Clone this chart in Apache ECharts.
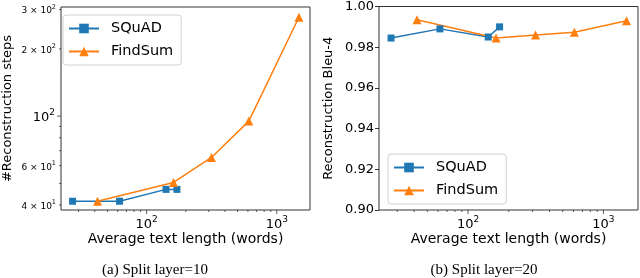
<!DOCTYPE html>
<html><head><meta charset="utf-8">
<script src="https://cdn.jsdelivr.net/npm/echarts@6/dist/echarts.min.js"></script>
<style>html,body{margin:0;padding:0;background:#fff}#c{width:640px;height:278px}</style>
</head><body><div id="c"></div>
<script>
// ---- data ----
const seriesNames = ['SQuAD', 'FindSum'];
const squadLen = [27, 62, 141, 171];
const findsumLen = [42, 161, 315, 610, 1480];
const squadSteps = [41.6, 41.6, 47, 47];
const findsumSteps = [41.6, 50.5, 65.3, 95, 277];
const squadBleu = [0.9845, 0.989, 0.985, 0.990];
const findsumBleu = [0.9935, 0.9845, 0.986, 0.9873, 0.993];
// ---- axis ticks ----
const xMajorTicks = [100, 1000];
const xMajorExp = ['2', '3'];
const xMinorTicks = [30, 40, 50, 60, 70, 80, 90, 200, 300, 400, 500, 600, 700, 800, 900];
const stepsMajorTicks = [100];
const stepsMinorTicks = [40, 50, 60, 70, 80, 90, 200, 300];
const stepsLabelVals = [40, 60, 100, 200, 300];
const stepsLabelMant = ['4 × 10', '6 × 10', '10', '2 × 10', '3 × 10'];
const stepsLabelExp = ['1', '1', '2', '2', '2'];
const stepsLabelBig = [false, false, true, false, false];

const BLUE = '#1f77b4', ORANGE = '#ff7f0e';
const FONT = 'DejaVu Sans';
const zip = (a, b) => a.map((v, i) => [v, b[i]]);

const chart = echarts.init(document.getElementById('c'), null, {renderer: 'canvas'});
const mkSeries = (name, color, sym, size, data, idx) => ({
  name, type: 'line', xAxisIndex: idx, yAxisIndex: idx, data,
  symbol: sym, symbolSize: size, color,
  lineStyle: {width: 1.5, color}, itemStyle: {color}, animation: false
});
const legendBase = {
  orient: 'vertical', itemWidth: 30, itemHeight: 12, itemGap: 8,
  padding: [6, 8, 6, 5], borderColor: '#d0d0d0', borderWidth: 1, borderRadius: 3,
  backgroundColor: '#fff',
  textStyle: {fontFamily: FONT, fontSize: 14.5, color: '#000', padding: [0, 0, 0, 7]},
  data: seriesNames
};
chart.setOption({
  animation: false,
  grid: [
    {left: 55, top: 7, width: 255, height: 203, show: true, borderColor: '#333', borderWidth: 1},
    {left: 379, top: 5, width: 259, height: 205, show: true, borderColor: '#333', borderWidth: 1}
  ],
  xAxis: [0, 1].map(i => ({
    type: 'log', gridIndex: i, min: 22, max: 1800, logBase: 10,
    axisLine: {show: false}, axisTick: {show: false}, axisLabel: {show: false}, splitLine: {show: false},
    name: 'Average text length (words)', nameLocation: 'middle', nameGap: 22,
    nameTextStyle: {fontFamily: FONT, fontSize: 14, color: '#000'}
  })),
  yAxis: [
    {type: 'log', gridIndex: 0, min: 38, max: 308, logBase: 10,
     axisLine: {show: false}, axisTick: {show: false}, axisLabel: {show: false}, splitLine: {show: false},
     name: '#Reconstruction steps', nameLocation: 'middle', nameGap: 47,
     nameTextStyle: {fontFamily: FONT, fontSize: 13, color: '#000'}},
    {type: 'value', gridIndex: 1, min: 0.9, max: 1.0, interval: 0.02,
     axisLine: {show: false}, axisTick: {show: true, length: 4, lineStyle: {color: '#333'}},
     axisLabel: {margin: 5, fontFamily: FONT, fontSize: 13, color: '#000', formatter: v => v.toFixed(2)},
     splitLine: {show: false},
     name: 'Reconstruction Bleu-4', nameLocation: 'middle', nameGap: 44,
     nameTextStyle: {fontFamily: FONT, fontSize: 13, color: '#000'}}
  ],
  legend: [
    Object.assign({}, legendBase, {left: 63, top: 15}),
    Object.assign({}, legendBase, {left: 388, top: 154})
  ],
  series: [
    mkSeries('SQuAD', BLUE, 'rect', 7, zip(squadLen, squadSteps), 0),
    mkSeries('FindSum', ORANGE, 'triangle', 9, zip(findsumLen, findsumSteps), 0),
    mkSeries('SQuAD', BLUE, 'rect', 7, zip(squadLen, squadBleu), 1),
    mkSeries('FindSum', ORANGE, 'triangle', 9, zip(findsumLen, findsumBleu), 1)
  ]
});

// ---- ticks & labels drawn at library-computed positions ----
const g = [];
const tickLine = (x1, y1, x2, y2) => g.push({type: 'line', silent: true,
  shape: {x1, y1, x2, y2}, style: {stroke: '#333', lineWidth: 0.8}});
const supText = (x, y, mant, exp, big, align) => g.push({type: 'text', silent: true, x, y,
  style: {
    text: '{m|' + mant + '}{e|' + exp + '}',
    align: align, verticalAlign: 'middle',
    rich: {
      m: {fontFamily: FONT, fontSize: big ? 13 : 9, color: '#000', lineHeight: big ? 16 : 12, verticalAlign: 'bottom'},
      e: {fontFamily: FONT, fontSize: big ? 9 : 6.5, color: '#000', verticalAlign: 'top'}
    }
  }});
[0, 1].forEach(gi => {
  const yMin = gi === 0 ? 38 : 0.9;
  const by = chart.convertToPixel({gridIndex: gi}, [100, yMin])[1];
  xMajorTicks.forEach((v, i) => {
    const x = chart.convertToPixel({gridIndex: gi}, [v, yMin])[0];
    tickLine(x, by, x, by + 4);
    supText(x, by + 13, '10', xMajorExp[i], true, 'center');
  });
  xMinorTicks.forEach(v => {
    const x = chart.convertToPixel({gridIndex: gi}, [v, yMin])[0];
    tickLine(x, by, x, by + 2);
  });
});
const lx = chart.convertToPixel({gridIndex: 0}, [22, 100])[0];
stepsMajorTicks.forEach(v => {
  const y = chart.convertToPixel({gridIndex: 0}, [22, v])[1];
  tickLine(lx - 4, y, lx, y);
});
stepsMinorTicks.forEach(v => {
  const y = chart.convertToPixel({gridIndex: 0}, [22, v])[1];
  tickLine(lx - 2, y, lx, y);
});
stepsLabelVals.forEach((v, i) => {
  const y = chart.convertToPixel({gridIndex: 0}, [22, v])[1];
  supText(lx - (stepsLabelBig[i] ? 6 : 5), y, stepsLabelMant[i], stepsLabelExp[i], stepsLabelBig[i], 'right');
});
// captions
g.push({type: 'text', silent: true, x: 155, y: 270,
  style: {text: '(a) Split layer=10', fontFamily: 'Liberation Serif', fontSize: 15, fill: '#000', align: 'center', verticalAlign: 'middle'}});
g.push({type: 'text', silent: true, x: 484, y: 270,
  style: {text: '(b) Split layer=20', fontFamily: 'Liberation Serif', fontSize: 15, fill: '#000', align: 'center', verticalAlign: 'middle'}});
chart.setOption({graphic: g});
</script>
</body></html>
